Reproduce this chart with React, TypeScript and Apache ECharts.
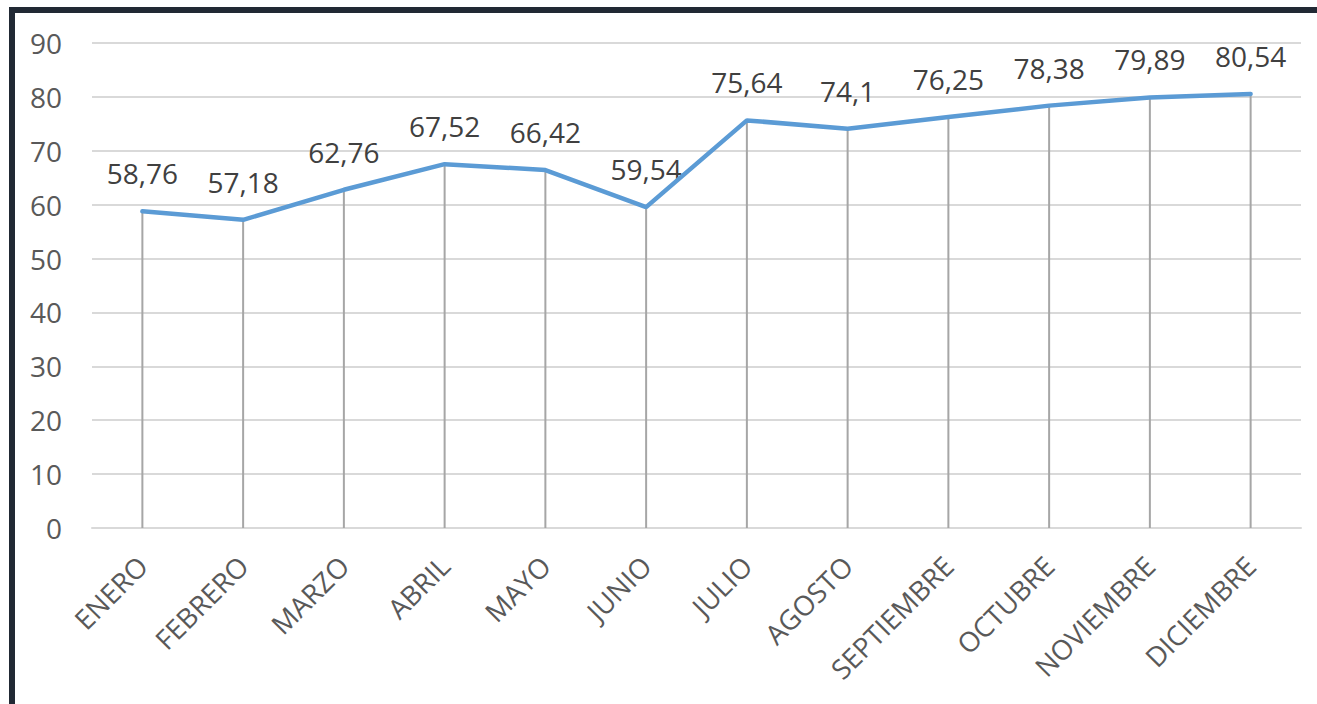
import React, { useEffect, useRef } from "react";
import * as echarts from "echarts";

const categories = ["ENERO", "FEBRERO", "MARZO", "ABRIL", "MAYO", "JUNIO", "JULIO", "AGOSTO", "SEPTIEMBRE", "OCTUBRE", "NOVIEMBRE", "DICIEMBRE"];
const values = [58.76, 57.18, 62.76, 67.52, 66.42, 59.54, 75.64, 74.1, 76.25, 78.38, 79.89, 80.54];
const yMin = 0;
const yMax = 90;
const yInterval = 10;

const FONT = "'Open Sans', 'Noto Sans', sans-serif";

export default function App() {
  const ref = useRef<HTMLDivElement>(null);
  useEffect(() => {
    document.body.style.margin = "0";
    const chart = echarts.init(ref.current!, null, { renderer: "svg" });
    chart.setOption({
      animation: false,
      backgroundColor: "#ffffff",
      graphic: [
        { type: "rect", shape: { x: 9, y: 7, width: 6, height: 697 }, style: { fill: "#212934" }, z: 100 },
        { type: "rect", shape: { x: 9, y: 7, width: 1308, height: 6 }, style: { fill: "#212934" }, z: 100 },
      ],
      grid: { left: 92, right: 16, top: 43, bottom: 176, containLabel: false },
      xAxis: {
        type: "category",
        data: categories,
        boundaryGap: true,
        axisLine: { show: true, lineStyle: { color: "#d9d9d9", width: 2 } },
        axisTick: { show: false },
        axisLabel: {
          rotate: 45,
          interval: 0,
          color: "#595959",
          fontFamily: FONT,
          fontSize: 27.5,
          margin: 33,
        },
        splitLine: { show: false },
      },
      yAxis: {
        type: "value",
        min: yMin,
        max: yMax,
        interval: yInterval,
        axisLine: { show: false },
        axisTick: { show: false },
        axisLabel: { color: "#595959", fontFamily: FONT, fontSize: 28, margin: 30 },
        splitLine: { show: true, lineStyle: { color: "#d9d9d9", width: 2 } },
      },
      series: [
        {
          type: "bar",
          data: values,
          barWidth: 2,
          itemStyle: { color: "#a6a6a6" },
          silent: true,
          z: 1,
          label: {
            show: true,
            position: "top",
            distance: 24,
            color: "#404040",
            fontFamily: FONT,
            fontSize: 28,
            formatter: (p: any) => String(p.value).replace(".", ","),
          },
        },
        {
          type: "line",
          data: values,
          showSymbol: false,
          symbol: "none",
          lineStyle: { color: "#5b9bd5", width: 4.5, cap: "round" },
          z: 3,
        },
      ],
    });
    return () => chart.dispose();
  }, []);
  return <div ref={ref} style={{ width: 1317, height: 704, position: "absolute", left: 0, top: 0 }} />;
}
